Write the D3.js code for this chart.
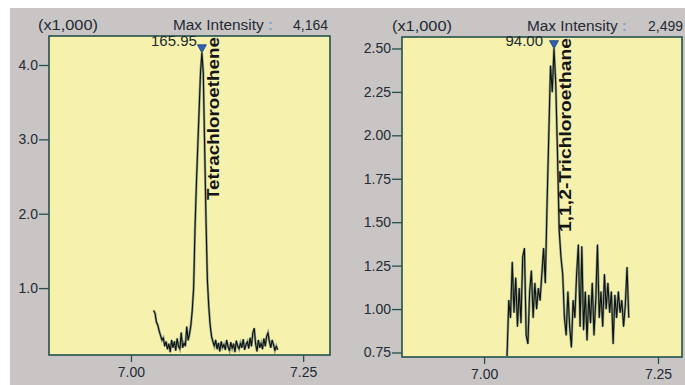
<!DOCTYPE html>
<html>
<head>
<meta charset="utf-8">
<script src="https://cdnjs.cloudflare.com/ajax/libs/d3/7.8.5/d3.min.js"></script>
<style>
  body { margin: 0; background: #fff; }
  svg text { font-family: "Liberation Sans", Arial, sans-serif; }
</style>
</head>
<body>
<svg width="685" height="385"></svg>
<script>
(function() {

  // intensities are in x1,000 counts, one value per scan
  var tetraStart = 7.033;
  var tetraStep = 0.002;
  var tetraValues = [
    0.70, 0.66, 0.54, 0.50,
    0.42, 0.36, 0.30, 0.33, 0.22, 0.28, 0.18,
    0.25, 0.14, 0.30, 0.20, 0.28, 0.16, 0.32, 0.22, 0.18, 0.40, 0.20, 0.26, 0.22, 0.48, 0.30,
    0.38, 0.50, 0.70, 1.00, 1.80, 2.40, 2.90, 3.40, 3.90, 4.164, 3.90, 2.90, 1.90, 1.10, 0.75, 0.50, 0.35, 0.28,
    0.22, 0.30, 0.18, 0.26, 0.15, 0.28, 0.20, 0.24, 0.17, 0.30, 0.21, 0.16, 0.27, 0.19, 0.25, 0.14,
    0.29, 0.22, 0.18, 0.26, 0.20, 0.31, 0.17, 0.24, 0.28, 0.19, 0.33, 0.22, 0.40, 0.46, 0.25, 0.15,
    0.30, 0.20, 0.26, 0.18, 0.32, 0.22, 0.35, 0.40, 0.28, 0.20, 0.30, 0.24, 0.16, 0.22, 0.17
  ];

  var tcaStart = 7.033;
  var tcaStep = 0.0025;
  var tcaValues = [
    0.73, 1.05, 0.95, 1.27, 0.98, 1.18, 0.90, 1.12, 0.92, 1.30,
    1.35, 0.85, 0.80, 1.10, 1.22, 0.95, 1.15, 1.00, 1.12, 1.05,
    1.20, 1.35, 1.15, 1.60, 2.00, 2.40, 2.25, 2.499, 2.30, 1.90,
    1.45, 1.30, 1.20, 0.95, 0.85, 1.10, 0.90, 0.78, 1.05, 0.95,
    1.20, 1.37, 0.90, 1.36, 0.88, 1.10, 0.82, 1.08, 0.92, 1.15,
    0.85, 1.05, 1.37, 0.95, 1.10, 0.90, 1.20, 1.00, 1.15, 0.98,
    1.10, 0.80, 1.08, 0.95, 1.10, 0.98, 1.05, 0.90, 1.02, 1.24,
    0.95
  ];

  var xTicks = [7.00, 7.25];
  var tetraYTicks = [1.0, 2.0, 3.0, 4.0];
  var tcaYTicks = [0.75, 1.00, 1.25, 1.50, 1.75, 2.00, 2.25, 2.50];

  var panels = [
    {
      name: "Tetrachloroethene", peakLabel: "165.95", maxText: "4,164",
      start: tetraStart, step: tetraStep, values: tetraValues,
      yTicks: tetraYTicks, yFmt: ".1f", yMinorStep: 0.2,
      box: {x0: 49, x1: 330, y0: 36, y1: 355},
      xDom: [6.881, 7.289], yDom: [0.10, 4.39],
      head: {scale: 38, max: 173, val: 328, base: 30},
      labelGap: 5,
      nameAt: {x: 219, y: 200, len: 163}
    },
    {
      name: "1,1,2-Trichloroethane", peakLabel: "94.00", maxText: "2,499",
      start: tcaStart, step: tcaStep, values: tcaValues,
      yTicks: tcaYTicks, yFmt: ".2f", yMinorStep: 0.25 / 6,
      box: {x0: 402, x1: 682, y0: 37, y1: 357},
      xDom: [6.882, 7.2845], yDom: [0.724, 2.566],
      head: {scale: 392, max: 527, val: 683, base: 31},
      labelGap: 11,
      nameAt: {x: 571, y: 232, len: 194}
    }
  ];

  var svg = d3.select('svg');
  var ink = '#23504b';
  var textCol = '#222a34';

  svg.append('rect')
    .attr('x', 10).attr('y', 8)
    .attr('width', 675).attr('height', 377)
    .attr('fill', '#c9c5c4');

  var defs = svg.append('defs');

  panels.forEach(function(p, k) {
    var b = p.box;
    var x = d3.scaleLinear().domain(p.xDom).range([b.x0, b.x1]);
    var y = d3.scaleLinear().domain(p.yDom).range([b.y1, b.y0]);

    defs.append('clipPath').attr('id', 'clip' + k)
      .append('rect')
      .attr('x', b.x0).attr('y', b.y0)
      .attr('width', b.x1 - b.x0).attr('height', b.y1 - b.y0);

    svg.append('rect')
      .attr('x', b.x0).attr('y', b.y0)
      .attr('width', b.x1 - b.x0).attr('height', b.y1 - b.y0)
      .attr('fill', '#f6f2ae');

    var line = d3.line()
      .x(function(d, i) { return x(p.start + i * p.step); })
      .y(function(d) { return y(d); });

    var g = svg.append('g').attr('clip-path', 'url(#clip' + k + ')');
    g.append('path')
      .datum(p.values)
      .attr('d', line)
      .attr('fill', 'none')
      .attr('stroke', '#5d7c72')
      .attr('stroke-width', 2.4)
      .attr('stroke-opacity', 0.7);
    g.append('path')
      .datum(p.values)
      .attr('d', line)
      .attr('fill', 'none')
      .attr('stroke', '#111')
      .attr('stroke-width', 1.1)
      .attr('stroke-linejoin', 'round');

    svg.append('rect')
      .attr('x', b.x0).attr('y', b.y0)
      .attr('width', b.x1 - b.x0).attr('height', b.y1 - b.y0)
      .attr('fill', 'none')
      .attr('stroke', ink)
      .attr('stroke-width', 1.6);

    // y axis: major with labels, minor without
    var yMinor = d3.range(p.yTicks[0] - 5 * p.yMinorStep, p.yDom[1], p.yMinorStep)
      .filter(function(v) { return v >= p.yDom[0] && v <= p.yDom[1]; });
    var ya = svg.append('g').attr('transform', 'translate(' + b.x0 + ',0)');
    ya.call(d3.axisLeft(y).tickValues(yMinor).tickSize(5).tickFormat(''));
    ya.call(d3.axisLeft(y).tickValues(p.yTicks).tickSize(10).tickPadding(1)
      .tickFormat(d3.format(p.yFmt)));

    var xMinor = d3.range(6.90, p.xDom[1], 0.05)
      .filter(function(v) { return v >= p.xDom[0] && v <= p.xDom[1]; });
    var xa = svg.append('g').attr('transform', 'translate(0,' + b.y1 + ')');
    xa.call(d3.axisBottom(x).tickValues(xMinor).tickSize(4).tickFormat(''));
    xa.call(d3.axisBottom(x).tickValues(xTicks).tickSize(7).tickPadding(5)
      .tickFormat(d3.format('.2f')));

    svg.selectAll('.domain').remove();
    svg.selectAll('.tick line').attr('stroke', ink).attr('stroke-width', 1.3);
    svg.selectAll('.tick text')
      .attr('fill', textCol)
      .style('font-size', '14px');

    // header
    var h = p.head;
    svg.append('text')
      .attr('x', h.scale).attr('y', h.base)
      .attr('fill', textCol).style('font-size', '14px')
      .attr('textLength', 60).attr('lengthAdjust', 'spacingAndGlyphs')
      .text('(x1,000)');
    var mx = svg.append('text')
      .attr('x', h.max).attr('y', h.base)
      .attr('fill', textCol).style('font-size', '14px')
      .attr('textLength', 100).attr('lengthAdjust', 'spacingAndGlyphs');
    mx.append('tspan').text('Max Intensity ');
    mx.append('tspan').attr('fill', '#7aa6d2').style('font-weight', 'bold').text(':');
    svg.append('text')
      .attr('x', h.val).attr('y', h.base)
      .attr('text-anchor', 'end')
      .attr('fill', textCol).style('font-size', '14px')
      .text(p.maxText);

    // peak marker
    var iMax = d3.maxIndex(p.values);
    var px = x(p.start + iMax * p.step);
    var py = y(p.values[iMax]);
    svg.append('path')
      .attr('d', 'M' + (px - 4.5) + ',' + (py - 8) + 'L' + (px + 4.5) + ',' + (py - 8) +
        'L' + px + ',' + py + 'Z')
      .attr('fill', '#2f5fb0')
      .attr('stroke', '#1d3f80')
      .attr('stroke-width', 0.8);
    svg.append('text')
      .attr('x', px - p.labelGap).attr('y', 46)
      .attr('text-anchor', 'end')
      .attr('fill', textCol).style('font-size', '15px')
      .text(p.peakLabel);

    // compound name, vertical
    svg.append('text')
      .attr('transform', 'translate(' + p.nameAt.x + ',' + p.nameAt.y + ') rotate(-90)')
      .attr('fill', '#151515')
      .style('font-size', '17px')
      .style('font-weight', 'bold')
      .attr('textLength', p.nameAt.len)
      .attr('lengthAdjust', 'spacingAndGlyphs')
      .text(p.name);
  });

})();
</script>
</body>
</html>
